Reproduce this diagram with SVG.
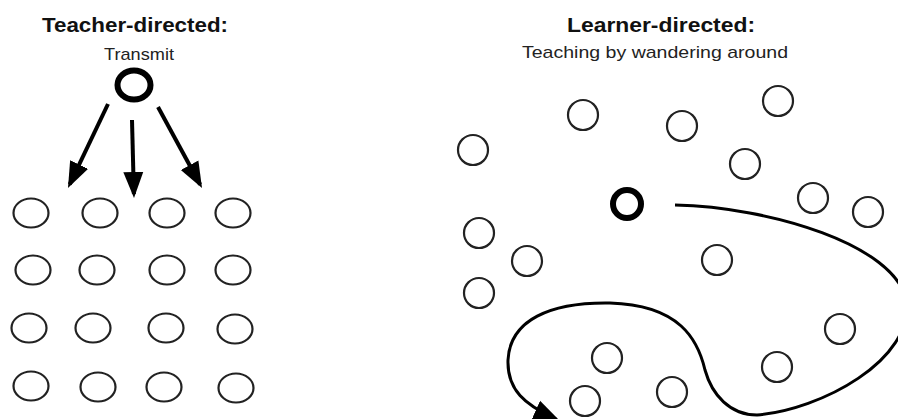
<svg xmlns="http://www.w3.org/2000/svg" width="898" height="419" viewBox="0 0 898 419">
<style>
.title{font-family:"Liberation Sans",Arial,sans-serif;font-weight:bold;font-size:21px;fill:#111}
.sub{font-family:"Liberation Sans",Arial,sans-serif;font-size:17px;fill:#222}
.s{fill:none;stroke:#222;stroke-width:2.2}
.b{fill:none;stroke:#000;stroke-width:6}
.arr{fill:none;stroke:#000;stroke-width:4}
.path{fill:none;stroke:#000;stroke-width:3}
</style>
<defs>
<marker id="ah" markerUnits="userSpaceOnUse" markerWidth="28" markerHeight="22" refX="22" refY="11" orient="auto">
<path d="M0,1 L26,11 L0,21 z" fill="#000"/>
</marker>
</defs>
<rect width="898" height="419" fill="#fff"/>
<g id="labels">
<text class="title" x="135" y="32" text-anchor="middle" textLength="186" lengthAdjust="spacingAndGlyphs">Teacher-directed:</text>
<text class="sub" x="139" y="60" text-anchor="middle" textLength="70" lengthAdjust="spacingAndGlyphs">Transmit</text>
<text class="title" x="661" y="32" text-anchor="middle" textLength="188" lengthAdjust="spacingAndGlyphs">Learner-directed:</text>
<text class="sub" x="655" y="58" text-anchor="middle" textLength="266" lengthAdjust="spacingAndGlyphs">Teaching by wandering around</text>
</g>
<g id="teacher"><ellipse class="b" cx="134" cy="85" rx="16.5" ry="14.5"/></g>
<g id="grid">
<ellipse class="s" cx="31" cy="213" rx="17.5" ry="14.5"/>
<ellipse class="s" cx="100" cy="213" rx="17.5" ry="14.5"/>
<ellipse class="s" cx="167" cy="213" rx="17.5" ry="14.5"/>
<ellipse class="s" cx="233" cy="213" rx="17.5" ry="14.5"/>
<ellipse class="s" cx="33" cy="270" rx="17.5" ry="14.5"/>
<ellipse class="s" cx="97" cy="270" rx="17.5" ry="14.5"/>
<ellipse class="s" cx="167" cy="270" rx="17.5" ry="14.5"/>
<ellipse class="s" cx="233" cy="270" rx="17.5" ry="14.5"/>
<ellipse class="s" cx="29" cy="328" rx="17.5" ry="14.5"/>
<ellipse class="s" cx="93" cy="328" rx="17.5" ry="14.5"/>
<ellipse class="s" cx="166" cy="328" rx="17.5" ry="14.5"/>
<ellipse class="s" cx="235" cy="329" rx="17.5" ry="14.5"/>
<ellipse class="s" cx="31" cy="386" rx="17.5" ry="14.5"/>
<ellipse class="s" cx="98" cy="387" rx="17.5" ry="14.5"/>
<ellipse class="s" cx="164" cy="387" rx="17.5" ry="14.5"/>
<ellipse class="s" cx="236" cy="388" rx="17.5" ry="14.5"/>
</g>
<g id="learner"><circle class="b" cx="627" cy="204" r="14"/></g>
<g id="learners">
<circle class="s" cx="473" cy="150" r="15"/>
<circle class="s" cx="583" cy="115" r="15"/>
<circle class="s" cx="682" cy="126" r="15"/>
<circle class="s" cx="778" cy="101" r="15"/>
<circle class="s" cx="745" cy="164" r="15"/>
<circle class="s" cx="813" cy="198" r="15"/>
<circle class="s" cx="868" cy="212" r="15"/>
<circle class="s" cx="479" cy="233" r="15"/>
<circle class="s" cx="527" cy="261" r="15"/>
<circle class="s" cx="479" cy="293" r="15"/>
<circle class="s" cx="717" cy="260" r="15"/>
<circle class="s" cx="840" cy="329" r="15"/>
<circle class="s" cx="777" cy="367" r="15"/>
<circle class="s" cx="607" cy="358" r="15"/>
<circle class="s" cx="585" cy="401" r="15"/>
<circle class="s" cx="672" cy="392" r="15"/>
</g>
<g id="connectors">
<line class="arr" x1="108" y1="104" x2="69.7" y2="184.4" marker-end="url(#ah)"/>
<line class="arr" x1="132" y1="120" x2="133.9" y2="194" marker-end="url(#ah)"/>
<line class="arr" x1="158" y1="107" x2="200.1" y2="184.5" marker-end="url(#ah)"/>
<path class="path" d="M675,205 C770,207 895,245 906,300 C915,360 820,410 757,415 C730,415 712,395 705,370 C698,340 680,305 610,303 C550,302 510,320 508,360 C507,390 525,405 556,419" marker-end="url(#ah)"/>
</g>
</svg>
